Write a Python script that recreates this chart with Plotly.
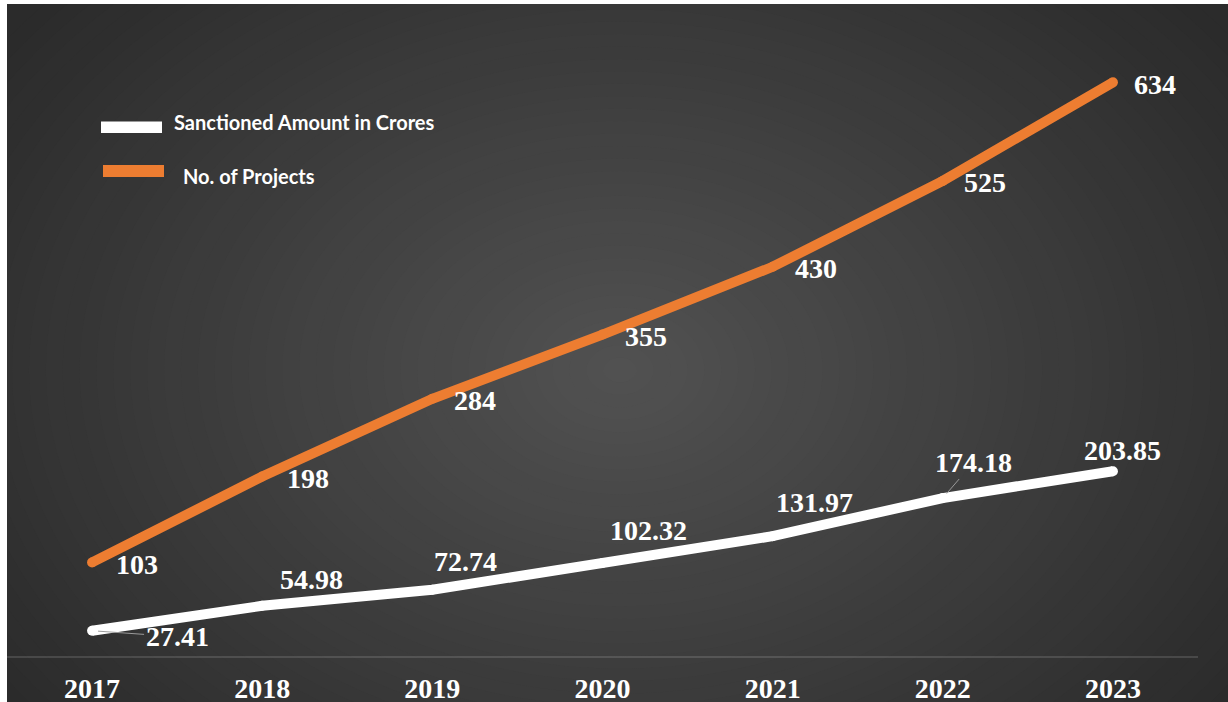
import plotly.graph_objects as go

# ---------------- data ----------------
years = ["2017", "2018", "2019", "2020", "2021", "2022", "2023"]
sanctioned_crores = [27.41, 54.98, 72.74, 102.32, 131.97, 174.18, 203.85]
no_of_projects = [103, 198, 284, 355, 430, 525, 634]
sanctioned_labels = ["27.41", "54.98", "72.74", "102.32", "131.97", "174.18", "203.85"]
project_labels = ["103", "198", "284", "355", "430", "525", "634"]
legend_names = ["Sanctioned Amount in Crores", "No. of Projects"]

# ---------------- styling ----------------
W, H = 1228, 702
ORANGE = "#ED7D31"
WHITE = "#FFFFFF"
SERIF = "Liberation Serif, Times New Roman, serif"
SANS = "Lato, Carlito, Calibri, sans-serif"

# label offsets in pixels (x right, y up)
proj_dx = [45, 46, 43, 43, 43, 42, 42]
proj_dy = [-2, -2, -2, -2, -2, -2, -2]
sanc_dx = [85, 49, 33, 46, 42, 31, 10]
sanc_dy = [-6, 26, 28, 32, 34, 36, 21]
leader = [True, False, False, False, False, True, False]


def px(x):
    return x / W


def py(y):
    return 1 - y / H


fig = go.Figure()

fig.add_trace(go.Scatter(
    x=years, y=sanctioned_crores, mode="lines+markers", name=legend_names[0],
    line=dict(color=WHITE, width=10), marker=dict(color=WHITE, size=10, line=dict(width=0)),
    showlegend=False, hoverinfo="x+y",
))
fig.add_trace(go.Scatter(
    x=years, y=no_of_projects, mode="lines+markers", name=legend_names[1],
    line=dict(color=ORANGE, width=10), marker=dict(color=ORANGE, size=10, line=dict(width=0)),
    showlegend=False, hoverinfo="x+y",
))

# ---------------- background (radial gradient via stacked ellipses) ----------------
shapes = []
shapes.append(dict(type="rect", xref="paper", yref="paper", x0=0, x1=1, y0=0, y1=1,
                   fillcolor="#2b2b2b", line=dict(width=0), layer="below"))
cx, cy, rx, ry = 620, 370, 760, 560
inner, outer = 82, 43
N = 45
for k in range(N):
    f = 1 - k / N
    v = int(round(inner - (inner - outer) * f))
    shapes.append(dict(type="circle", xref="paper", yref="paper",
                       x0=px(cx - rx * f), x1=px(cx + rx * f),
                       y0=py(cy + ry * f), y1=py(cy - ry * f),
                       fillcolor=f"rgb({v},{v},{v})", line=dict(width=0), layer="below"))
# white margins on left and top
shapes.append(dict(type="rect", xref="paper", yref="paper", x0=0, x1=px(7), y0=0, y1=1,
                   fillcolor="white", line=dict(width=0), layer="below"))
shapes.append(dict(type="rect", xref="paper", yref="paper", x0=0, x1=1, y0=py(4), y1=1,
                   fillcolor="white", line=dict(width=0), layer="below"))

# legend swatches
shapes.append(dict(type="rect", xref="paper", yref="paper", x0=px(101), x1=px(162),
                   y0=py(133), y1=py(121.5), fillcolor=WHITE, line=dict(width=0)))
shapes.append(dict(type="rect", xref="paper", yref="paper", x0=px(103), x1=px(164),
                   y0=py(177), y1=py(165), fillcolor=ORANGE, line=dict(width=0)))

annotations = []
annotations.append(dict(xref="paper", yref="paper", x=px(172), y=py(122.5), xanchor="left",
                        yanchor="middle", text=legend_names[0], showarrow=False,
                        font=dict(family=SANS, size=20, color=WHITE, weight="bold")))
annotations.append(dict(xref="paper", yref="paper", x=px(181), y=py(175.5), xanchor="left",
                        yanchor="middle", text=legend_names[1], showarrow=False,
                        font=dict(family=SANS, size=20, color=WHITE, weight="bold")))

lab_font = dict(family=SERIF, size=28, color=WHITE, weight="bold")
for i, yr in enumerate(years):
    # category axis: annotation x given as the category's index
    annotations.append(dict(x=i, y=no_of_projects[i], xref="x", yref="y",
                            text=project_labels[i], showarrow=False,
                            xshift=proj_dx[i], yshift=proj_dy[i], font=lab_font))
    if leader[i]:
        annotations.append(dict(x=i, y=sanctioned_crores[i], xref="x", yref="y",
                                text=sanctioned_labels[i], showarrow=True, arrowhead=0,
                                arrowwidth=1, arrowcolor="#9a9a9a", standoff=6,
                                ax=sanc_dx[i], ay=-sanc_dy[i], font=lab_font))
    else:
        annotations.append(dict(x=i, y=sanctioned_crores[i], xref="x", yref="y",
                                text=sanctioned_labels[i], showarrow=False,
                                xshift=sanc_dx[i], yshift=sanc_dy[i], font=lab_font))

fig.update_layout(
    width=W, height=H,
    margin=dict(l=0, r=0, t=0, b=0),
    paper_bgcolor="white",
    plot_bgcolor="rgba(0,0,0,0)",
    shapes=shapes,
    annotations=annotations,
    showlegend=False,
    xaxis=dict(
        type="category", domain=[px(7), px(1198)], range=[-0.5, 6.5],
        showgrid=False, zeroline=False, showline=True,
        linecolor="rgba(255,255,255,0.13)", linewidth=1.5,
        ticks="", ticklabelstandoff=7, automargin=False,
        tickfont=dict(family=SERIF, size=28, color=WHITE, weight="bold"),
        fixedrange=True,
    ),
    yaxis=dict(
        domain=[py(655.5), py(22.7)], range=[0, 700],
        showgrid=False, zeroline=False, showline=False, showticklabels=False,
        ticks="", automargin=False, fixedrange=True,
    ),
)

fig.write_html("out.html")
